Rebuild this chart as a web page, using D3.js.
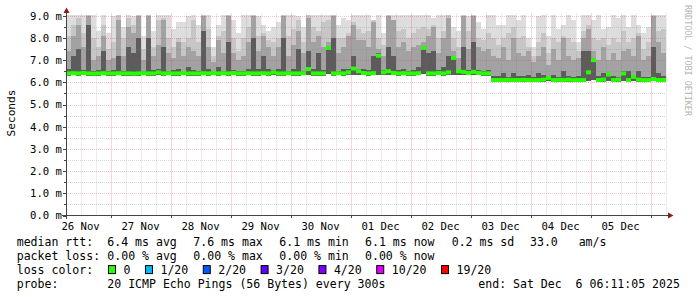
<!DOCTYPE html>
<html>
<head>
<meta charset="utf-8">
<script src="https://cdn.jsdelivr.net/npm/d3@7"></script>
<style>
  body { margin: 0; background: #fff; }
  svg { display: block; }
  text { font-family: "DejaVu Sans Mono", monospace; fill: #000; }
</style>
</head>
<body>
<div id="chart"></div>
<script>
// period shown: 10 days ending Sat Dec 6 06:11:05 2025, one bin = 2 hours
const startTime = "2025-11-26T06:11:05Z"
const endTime = "2025-12-06T06:11:05Z"
const binHours = 2

// smoke, in ms: min ping, then the top of each band (lightest first)
const pingMin = [
6.30,6.31,6.30,6.32,6.30,6.29,6.30,6.31,6.30,6.30,6.31,6.30,6.30,6.29,6.30,6.31,6.30,6.30,6.33,6.30,
6.31,6.30,6.30,6.32,6.30,6.30,6.30,6.31,6.30,6.32,6.30,6.31,6.30,6.32,6.30,6.30,6.31,6.30,6.30,6.31,
6.30,6.33,6.30,6.30,6.31,6.30,6.30,6.31,6.32,6.30,6.30,6.30,6.38,6.30,6.31,6.30,6.33,6.34,6.32,6.32,
6.30,6.31,6.34,6.33,6.34,6.32,6.30,6.31,6.30,6.30,6.31,6.38,6.30,6.30,6.32,6.30,6.33,6.34,6.34,6.33,
6.32,6.33,6.32,6.30,6.30,6.00,6.00,6.00,6.01,6.00,6.00,6.01,6.00,6.00,6.00,6.02,6.05,6.00,6.01,6.00,
6.02,6.00,6.00,6.00,6.08,6.10,6.00,6.02,6.06,6.00,6.02,6.06,6.00,6.04,6.02,6.00,6.00,6.05,6.00,6.00]

const pingMax = [
9.05,9.05,9.05,9.05,9.05,9.05,8.30,9.05,8.20,9.00,9.05,8.50,9.05,9.00,9.05,8.10,9.05,8.30,9.05,9.05,
9.05,8.40,8.70,8.70,9.00,9.05,8.60,9.05,9.05,7.60,8.60,9.05,9.05,8.80,8.20,9.05,9.05,9.05,9.00,8.60,
8.30,8.50,8.70,9.05,9.05,9.05,9.00,8.50,9.05,9.05,9.05,9.05,9.05,9.05,8.60,8.90,8.80,9.05,9.05,9.05,
9.05,8.80,9.05,8.20,9.05,9.05,9.05,9.05,9.05,9.05,9.05,9.05,9.05,8.90,9.05,9.05,9.05,8.50,8.30,9.05,
9.00,9.05,8.70,8.40,9.05,9.05,8.60,8.60,9.05,9.05,8.80,9.05,8.00,7.60,9.00,9.05,8.10,9.05,8.40,8.60,
9.05,8.80,7.80,9.05,9.05,8.80,9.05,8.40,8.50,9.05,8.90,9.05,8.50,9.05,8.60,8.20,8.50,9.05,9.05,9.05]

const pingUpper = [
8.1,8.6,8.9,8.2,9.05,8.0,7.6,8.6,7.5,7.8,9.05,8.0,8.9,8.6,9.05,7.5,9.05,7.6,8.8,8.9,
8.0,7.6,8.0,7.8,8.0,8.8,7.8,9.05,8.4,7.2,8.1,8.3,9.05,8.0,7.4,8.0,8.5,9.05,8.1,8.2,
7.9,7.8,8.0,9.05,8.1,8.4,8.8,7.8,9.05,8.5,8.3,8.7,8.8,9.05,8.0,8.0,8.2,8.7,8.4,8.2,
8.3,8.8,8.0,7.7,9.05,8.8,8.3,8.4,8.0,8.2,8.4,8.5,8.4,8.6,8.0,8.3,9.05,8.0,7.6,9.05,
8.3,9.05,8.0,7.9,8.2,8.0,7.7,8.0,8.2,8.5,8.0,8.1,7.6,7.2,7.8,8.2,7.3,8.0,7.8,8.1,
8.0,7.8,7.4,8.3,8.6,8.0,7.9,8.0,7.7,8.0,7.8,8.3,7.8,8.0,8.2,7.5,7.8,9.05,8.3,8.4]

const pingMid = [
7.4,8.1,8.6,7.6,9.0,7.0,7.2,8.1,7.0,7.1,8.8,7.2,8.5,8.2,9.0,7.0,9.0,7.2,7.7,8.8,
7.3,7.1,7.8,7.2,7.6,7.4,7.2,9.0,7.6,6.9,7.9,7.3,9.0,7.3,7.0,7.2,7.8,9.0,7.4,8.1,
7.6,7.2,7.6,9.0,7.2,7.7,8.3,7.3,8.9,7.8,8.1,7.6,7.8,9.0,7.3,7.6,8.1,8.6,7.9,7.9,
7.6,8.7,7.5,7.2,9.0,8.8,7.6,7.8,7.4,7.6,7.7,7.8,8.1,8.5,7.3,8.0,8.9,7.4,7.1,9.0,
7.5,9.0,7.6,7.4,7.5,7.2,7.1,7.6,7.0,8.0,7.3,7.2,7.4,6.9,7.2,7.6,6.8,7.5,7.0,8.0,
7.2,7.0,7.1,8.0,8.4,7.4,7.0,7.6,7.0,7.3,7.0,7.4,7.5,7.2,8.1,7.0,7.2,9.0,7.8,7.3]

const pingInner = [
6.60,7.20,7.50,6.55,8.60,6.50,6.55,7.40,6.50,6.55,7.20,6.50,7.60,7.30,8.00,6.50,8.00,6.55,6.60,7.60,
6.50,6.55,6.60,6.50,6.70,6.55,6.50,8.30,6.60,6.50,6.70,6.50,7.80,6.55,6.50,6.50,6.60,8.00,6.60,7.20,
6.60,6.55,6.60,8.00,6.50,6.60,7.50,6.50,7.40,6.60,7.30,6.55,7.60,8.00,6.50,6.60,6.60,7.20,6.60,6.60,
6.55,7.20,7.30,6.55,7.60,7.20,6.55,6.60,6.50,6.55,6.70,7.60,7.30,7.40,6.55,6.70,7.20,7.20,6.55,7.60,
6.55,7.80,6.55,6.50,6.55,6.30,6.30,6.40,6.25,6.40,6.30,6.30,6.35,6.25,6.40,6.35,6.30,6.35,6.25,6.50,
6.30,6.25,6.30,7.40,7.40,7.10,6.30,6.40,6.40,6.30,6.25,6.50,6.50,6.35,6.50,6.25,6.25,7.60,6.40,6.30]

// median rtt per bin, ms (packet loss was 0 everywhere)
const median = [
6.40,6.41,6.40,6.42,6.40,6.39,6.40,6.41,6.40,6.40,6.41,6.40,6.40,6.39,6.40,6.41,6.40,6.40,6.45,6.40,
6.41,6.40,6.40,6.42,6.40,6.40,6.40,6.41,6.40,6.42,6.40,6.41,6.40,6.42,6.40,6.40,6.41,6.40,6.40,6.41,
6.40,6.45,6.40,6.40,6.41,6.40,6.40,6.41,6.60,6.40,6.40,6.40,7.55,6.40,6.41,6.40,6.45,6.62,6.50,6.42,
6.40,6.41,7.20,6.45,6.50,6.42,6.40,6.41,6.40,6.40,6.41,7.55,6.40,6.40,6.42,6.40,6.45,7.10,6.50,6.47,
6.42,6.47,6.42,6.40,6.40,6.10,6.10,6.10,6.11,6.10,6.10,6.11,6.10,6.10,6.10,6.12,6.20,6.10,6.11,6.10,
6.12,6.10,6.10,6.10,6.45,7.00,6.10,6.12,6.35,6.10,6.12,6.40,6.10,6.25,6.12,6.10,6.10,6.15,6.10,6.10]

// y axis
const yMax = 9.1
const yLabels = [0, 1, 2, 3, 4, 5, 6, 7, 8, 9]

// legend
const rttStats = ["6.4 ms avg", "7.6 ms max", "6.1 ms min", "6.1 ms now", "0.2 ms sd", "33.0   am/s"]
const lossStats = ["0.00 % avg", "0.00 % max", "0.00 % min", "0.00 % now"]
const lossLabels = ["0", "1/20", "2/20", "3/20", "4/20", "10/20", "19/20"]
const lossColors = ["#26ff00", "#00b8ff", "#0059ff", "#5e00ff", "#7e00ff", "#dd00ff", "#ff0000"]
const probeText = "20 ICMP Echo Pings (56 Bytes) every 300s"
const endText = "end: Sat Dec  6 06:11:05 2025"

var width = 697, height = 297
var charW = 6.955

var svg = d3.select("#chart").append("svg")
    .attr("width", width)
    .attr("height", height)

svg.append("rect").attr("width", width).attr("height", height).attr("fill", "#fff")

var t0 = new Date(startTime), t1 = new Date(endTime)
var x = d3.scaleUtc().domain([t0, t1]).range([66, 666])
var y = d3.scaleLinear().domain([0, yMax]).range([215.5, 13.5])

var bins = median.map(function(m, i) {
  var a = d3.utcHour.offset(t0, i * binHours)
  return {
    t: a, t2: d3.utcHour.offset(a, binHours), med: m,
    lo: pingMin[i], hi: [pingMax[i], pingUpper[i], pingMid[i], pingInner[i]]
  }
})

// smoke bands, lightest at the back
var shades = ["#dddddd", "#c6c6c6", "#a2a2a2", "#5c5c5c"]
shades.forEach(function(c, k) {
  svg.append("g").selectAll("rect")
    .data(bins).enter().append("rect")
    .attr("x", function(d) { return x(d.t) })
    .attr("width", function(d) { return x(d.t2) - x(d.t) })
    .attr("y", function(d) { return y(d.hi[k]) })
    .attr("height", function(d) { return Math.max(0, y(d.lo) - y(d.hi[k])) })
    .attr("fill", c)
    .attr("shape-rendering", "crispEdges")
})

// grid, dotted like rrdtool
var grid = svg.append("g")
var minorX = d3.utcHour.every(6).range(t0, t1)
grid.selectAll(".vmin").data(minorX).enter().append("line")
    .attr("x1", function(d) { return Math.round(x(d)) + 0.5 })
    .attr("x2", function(d) { return Math.round(x(d)) + 0.5 })
    .attr("y1", y(yMax)).attr("y2", y(0))
    .attr("stroke", function(d) { return d.getUTCHours() == 0 ? "rgba(215,60,60,0.4)" : "rgba(130,130,130,0.3)" })
    .attr("stroke-dasharray", "1,1")

var minorY = d3.range(0.5, yMax, 0.5)
grid.selectAll(".hmin").data(minorY).enter().append("line")
    .attr("x1", 66).attr("x2", 666)
    .attr("y1", function(d) { return Math.round(y(d)) + 0.5 })
    .attr("y2", function(d) { return Math.round(y(d)) + 0.5 })
    .attr("stroke", function(d) { return d % 1 == 0 ? "rgba(215,60,60,0.3)" : "rgba(130,130,130,0.3)" })
    .attr("stroke-dasharray", "1,1")

// median, one dash per bin in the loss colour
svg.append("g").selectAll("rect")
  .data(bins).enter().append("rect")
  .attr("x", function(d) { return x(d.t) })
  .attr("width", function(d) { return x(d.t2) - x(d.t) })
  .attr("y", function(d) { return y(d.med) - 2 })
  .attr("height", 4)
  .attr("fill", lossColors[0])

// axes
var axisCol = "#444"
svg.append("line").attr("x1", 62).attr("x2", 669).attr("y1", 215.5).attr("y2", 215.5)
   .attr("stroke", axisCol)
svg.append("line").attr("x1", 66.5).attr("x2", 66.5).attr("y1", 219).attr("y2", 11)
   .attr("stroke", axisCol)
svg.append("path").attr("d", "M668,212.5L673.5,215.5L668,218.5Z").attr("fill", "#8b1a1a")
svg.append("path").attr("d", "M63.5,13L66.5,7.5L69.5,13Z").attr("fill", "#8b1a1a")

// small ticks on the y axis
svg.append("g").selectAll("line")
  .data(minorY.concat([0])).enter().append("line")
  .attr("x1", function(d) { return d % 1 == 0 ? 63 : 64 }).attr("x2", 66)
  .attr("y1", function(d) { return Math.round(y(d)) + 0.5 })
  .attr("y2", function(d) { return Math.round(y(d)) + 0.5 })
  .attr("stroke", axisCol)

// x ticks and day labels, centred on noon
var days = d3.utcDay.range(t0, t1)
svg.append("g").selectAll("line")
  .data(days).enter().append("line")
  .attr("x1", function(d) { return Math.round(x(d)) + 0.5 })
  .attr("x2", function(d) { return Math.round(x(d)) + 0.5 })
  .attr("y1", 215.5).attr("y2", 218)
  .attr("stroke", axisCol)

var dayFmt = d3.utcFormat("%d %b")
var labelDays = d3.utcDay.range(d3.utcDay.floor(t0), t1)
  .filter(function(d) { return d3.utcHour.offset(d, 12) <= t1 })
svg.append("g").selectAll("text")
  .data(labelDays).enter().append("text")
  .attr("x", function(d) { return x(d3.utcHour.offset(d, 12)) })
  .attr("y", 229.5)
  .attr("text-anchor", "middle")
  .style("font-size", "10.6px")
  .text(function(d) { return dayFmt(d) })

// y labels
var yFmt = d3.format(".1f")
svg.append("g").selectAll("text")
  .data(yLabels).enter().append("text")
  .attr("x", 62)
  .attr("y", function(d) { return y(d) + 3.9 })
  .attr("text-anchor", "end")
  .style("font-size", "10.6px")
  .text(function(d) { return yFmt(d) + " m" })

svg.append("text")
  .attr("transform", "translate(15,113) rotate(-90)")
  .attr("text-anchor", "middle")
  .style("font-size", "11.2px")
  .text("Seconds")

// watermark
svg.append("text")
  .attr("transform", "translate(685,5) rotate(90)")
  .style("font-size", "8.4px")
  .style("fill", "#b4b4b4")
  .text("RRDTOOL / TOBI OETIKER")

// legend
var leg = svg.append("g").style("font-size", "11.55px")
var rowY = [245.5, 259.8, 274.1, 288.4]
var colX = [107.3, 193.3, 279.3, 365, 451.7, 530]

function put(tx, ty, s) {
  leg.append("text").attr("x", tx).attr("y", ty)
     .attr("xml:space", "preserve").style("white-space", "pre")
     .text(s)
}

put(16.7, rowY[0], "median rtt:")
rttStats.forEach(function(s, i) { put(colX[i], rowY[0], s) })
put(16.7, rowY[1], "packet loss:")
lossStats.forEach(function(s, i) { put(colX[i], rowY[1], s) })
put(16.7, rowY[2], "loss color:")

var sx = 108.5
lossLabels.forEach(function(s, i) {
  leg.append("rect")
     .attr("x", sx).attr("y", rowY[2] - 8.5)
     .attr("width", 7).attr("height", 8)
     .attr("fill", lossColors[i])
     .attr("stroke", "#000")
  put(sx + 15, rowY[2], s)
  sx = sx + 15 + s.length * charW + 15
})

put(16.7, rowY[3], "probe:")
put(colX[0], rowY[3], probeText)
put(478.3, rowY[3], endText)
</script>
</body>
</html>
